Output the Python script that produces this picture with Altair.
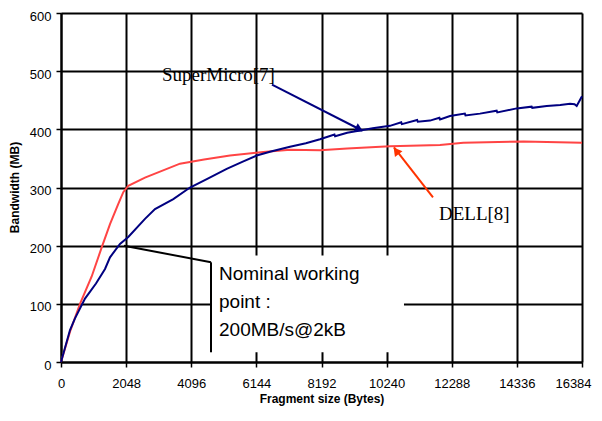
import altair as alt
import pandas as pd

# ---- data ----
dell_x = [0, 283, 597, 965, 1280, 1541, 1802, 1959, 2116, 2641, 3742, 4500, 5314, 6362, 7201, 8145, 9000, 10346, 11918, 12652, 14545, 16384]
dell_y = [0, 52, 100, 147, 197, 237, 272, 292, 303, 317, 341, 348, 355, 361, 365, 364, 367, 371, 373, 377, 379, 377]

sm_x = [0, 283, 440, 755, 1100, 1384, 1541, 1855, 2116, 2641, 2956, 3532, 4057, 4600, 5211, 5700, 6154, 6600, 7201, 7700, 8145,
        8600, 8620, 9000, 9403, 9800, 10346, 10700, 10720, 11200, 11220, 11604, 11900, 11920, 12233, 12700, 12720, 13176,
        13700, 13720, 14330, 14800, 14820, 15274, 15700, 16007, 16150, 16217, 16384]
sm_y = [0, 55, 75, 109, 135, 160, 180, 203, 215, 246, 263, 280, 300, 315, 332, 344, 355, 362, 370, 376, 383,
        391, 388, 394, 398, 402, 406, 412, 409, 416, 413, 415, 420, 417, 423, 427, 424, 427,
        432, 429, 436, 439, 437, 440, 442, 444, 443, 440, 457]

x_ticks = [0, 2048, 4096, 6144, 8192, 10240, 12288, 14336, 16384]
y_ticks = [0, 100, 200, 300, 400, 500, 600]

# annotation positions (data units)
box = pd.DataFrame({"x": [4717], "x2": [10786], "y": [16.7], "y2": [183]})
callout = pd.DataFrame({"x": [4717, 4717], "y": [16.7, 171.4], "x2": [4717, 1981], "y2": [171.4, 200]})
sm_arrow = pd.DataFrame({"x": [6635], "y": [477], "x2": [9466], "y2": [398]})
sm_head = pd.DataFrame({"x": [9380], "y": [400]})
dell_arrow = pd.DataFrame({"x": [11698], "y": [283], "x2": [10472], "y2": [369]})
dell_head = pd.DataFrame({"x": [10540], "y": [363]})
note_lines = pd.DataFrame({"x": [4969, 4969, 4969], "y": [140.5, 92.3, 44.2],
                           "t": ["Nominal working", "point :", "200MB/s@2kB"]})
labels = pd.DataFrame({"x": [3176, 11887], "y": [493, 254], "t": ["SuperMicro[7]", "DELL[8]"]})

df = pd.concat([
    pd.DataFrame({"x": dell_x, "y": dell_y, "s": "DELL[8]"}),
    pd.DataFrame({"x": sm_x, "y": sm_y, "s": "SuperMicro[7]"}),
])

xs = alt.Scale(domain=[0, 16384], nice=False, zero=False)
ys = alt.Scale(domain=[0, 600], nice=False, zero=False)
common = dict(grid=True, gridColor="#000000", gridWidth=2, gridOpacity=1,
              domainColor="#000000", domainWidth=2, domainOpacity=1,
              tickColor="#000000", tickWidth=1.5, tickSize=5, tickOpacity=1,
              labelFont="Liberation Sans", labelFontSize=13, labelColor="#000000", labelFlush=False,
              titleFont="Liberation Sans", titleFontSize=12, titleFontWeight="bold", titleColor="#000000")
x_axis = alt.Axis(values=x_ticks, format="d", titleX=260.5, titleY=36, titleBaseline="middle", labelPadding=10,
                  labelOffset={"condition": {"test": "datum.value == 16384", "value": -9}, "value": 0},
                  **common)
y_axis = alt.Axis(values=y_ticks, format="d", titleX=-47, titleY=174, titleBaseline="middle", titleAngle=270,
                  titleAlign="center", labelPadding=5, labelOffset=3, **common)


def nx(f="x"):
    return alt.X(f"{f}:Q", scale=xs, axis=x_axis, title="Fragment size (Bytes)")


def ny(f="y"):
    return alt.Y(f"{f}:Q", scale=ys, axis=y_axis, title="Bandwidth (MB)")


lines = alt.Chart(df).mark_line(strokeWidth=2).encode(
    x=nx(), y=ny(),
    color=alt.Color("s:N", scale=alt.Scale(domain=["DELL[8]", "SuperMicro[7]"], range=["#FF4444", "#000080"]),
                    legend=None),
    detail="s:N",
)

box_l = alt.Chart(box).mark_rect(color="white").encode(
    x=nx(), x2="x2:Q", y=ny(), y2="y2:Q")
callout_l = alt.Chart(callout).mark_rule(color="black", strokeWidth=2).encode(
    x=nx(), y=ny(), x2="x2:Q", y2="y2:Q")
sm_arrow_l = alt.Chart(sm_arrow).mark_rule(color="#000080", strokeWidth=2).encode(
    x=nx(), y=ny(), x2="x2:Q", y2="y2:Q")
sm_head_l = alt.Chart(sm_head).mark_point(shape="triangle-up", filled=True, color="#000080", size=90,
                                          angle=117, opacity=1).encode(x=nx(), y=ny())
dell_arrow_l = alt.Chart(dell_arrow).mark_rule(color="#FF3300", strokeWidth=2).encode(
    x=nx(), y=ny(), x2="x2:Q", y2="y2:Q")
dell_head_l = alt.Chart(dell_head).mark_point(shape="triangle-up", filled=True, color="#FF3300", size=90,
                                              angle=322, opacity=1).encode(x=nx(), y=ny())
note_l = alt.Chart(note_lines).mark_text(align="left", baseline="alphabetic", font="Liberation Sans",
                                         fontSize=19, color="black").encode(x=nx(), y=ny(), text="t:N")
labels_l = alt.Chart(labels).mark_text(align="left", baseline="middle", font="Liberation Serif",
                                       fontSize=19, color="black").encode(x=nx(), y=ny(), text="t:N")

chart = alt.layer(lines, box_l, callout_l, sm_arrow_l, sm_head_l, dell_arrow_l, dell_head_l, note_l, labels_l).properties(
    width=521, height=349,
    autosize=alt.AutoSizeParams(type="none"),
    padding={"left": 53, "top": 5, "right": 12, "bottom": 48},
).configure_view(strokeWidth=0).configure(background="white")

chart.save("out.html", embed_options={"renderer": "svg", "actions": False})
